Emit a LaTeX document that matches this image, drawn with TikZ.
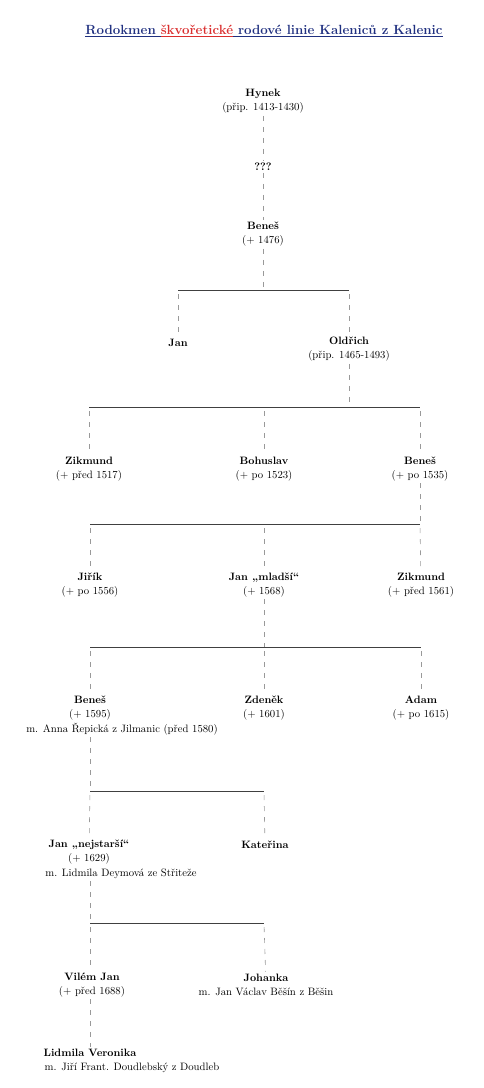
\documentclass[tikz,border=0pt]{standalone}
\usepackage{fontspec}
\usepackage{xcolor}
\usetikzlibrary{positioning}

\definecolor{titleblue}{RGB}{32,48,128}
\definecolor{titlered}{RGB}{218,46,46}

\begin{document}
\begin{tikzpicture}[x=1pt, y=-1pt,
		person/.style={font=\fontsize{10.7}{14}\selectfont, align=center, inner sep=2pt},
		spouse/.style={font=\fontsize{10.7}{14}\selectfont, inner sep=2pt},
		kin/.style={gray!80, line width=0.6pt, dash pattern=on 5pt off 6pt},
		bar/.style={black!75, line width=0.7pt}]
	\useasboundingbox (0,0) rectangle (484,1088);

	% title
	\node[font=\fontsize{13.3}{15}\selectfont\bfseries, inner sep=0pt] (title) at (264,31)
		{\textcolor{titleblue}{\underline{Rodokmen\ }}\textcolor{titlered}{\underline{škvořetické}}\textcolor{titleblue}{\underline{\ rodové linie Kaleniců z Kalenic}}};

	% Hynek and Beneš
	\node[person] (hynek) at (263,101.5) {\textbf{Hynek}\\(přip. 1413-1430)};
	\node[person] (unk) at (263,167) {\textbf{???}};
	\node[person] (benes1) at (263,234.5) {\textbf{Beneš}\\(+ 1476)};
	\draw[kin] (hynek) -- (unk);
	\draw[kin] (unk) -- (benes1);

	% sons of Beneš
	\coordinate (b1l) at (178,290);
	\coordinate (b1m) at (263,290);
	\coordinate (b1r) at (349,290);
	\node[person] (jan1) at (178,343) {\textbf{Jan}};
	\node[person] (oldrich) at (349,349.5) {\textbf{Oldřich}\\(přip. 1465-1493)};
	\draw[bar] (b1l) -- (b1r);
	\draw[kin] (benes1) -- (b1m);
	\draw[kin, shorten <=4pt] (b1l) -- (jan1);
	\draw[kin, shorten <=4pt] (b1r) -- (oldrich);

	% sons of Oldřich
	\coordinate (b2l) at (89,407);
	\coordinate (b2c) at (264,407);
	\coordinate (b2m) at (349,407);
	\coordinate (b2r) at (420,407);
	\node[person] (zikmund1) at (89,469) {\textbf{Zikmund}\\(+ před 1517)};
	\node[person] (bohuslav) at (264,469) {\textbf{Bohuslav}\\(+ po 1523)};
	\node[person] (benes2) at (420,469) {\textbf{Beneš}\\(+ po 1535)};
	\draw[bar] (b2l) -- (b2r);
	\draw[kin] (oldrich) -- (b2m);
	\draw[kin, shorten <=4pt] (b2l) -- (zikmund1);
	\draw[kin, shorten <=4pt] (b2c) -- (bohuslav);
	\draw[kin, shorten <=4pt] (b2r) -- (benes2);

	% sons of Beneš
	\coordinate (b3l) at (90,524);
	\coordinate (b3c) at (264,524);
	\coordinate (b3r) at (420,524);
	\node[person] (jirik) at (90,585) {\textbf{Jiřík}\\(+ po 1556)};
	\node[person] (janml) at (264,585) {\textbf{Jan „mladší“}\\(+ 1568)};
	\node[person] (zikmund2) at (421,585) {\textbf{Zikmund}\\(+ před 1561)};
	\draw[bar] (b3l) -- (b3r);
	\draw[kin] (benes2) -- (b3r);
	\draw[kin, shorten <=4pt] (b3l) -- (jirik);
	\draw[kin, shorten <=4pt] (b3c) -- (janml);
	\draw[kin, shorten <=4pt] (b3r) -- (zikmund2);

	% sons of Jan "mladší"
	\coordinate (b4l) at (90,647);
	\coordinate (b4c) at (264,647);
	\coordinate (b4r) at (421,647);
	\node[person] (benes3) at (90,708) {\textbf{Beneš}\\(+ 1595)};
	\node[spouse] (benes3sp) at (122,729) {m. Anna Řepická z Jilmanic (před 1580)};
	\node[person] (zdenek) at (264,708) {\textbf{Zdeněk}\\(+ 1601)};
	\node[person] (adam) at (421,708) {\textbf{Adam}\\(+ po 1615)};
	\draw[bar] (b4l) -- (b4r);
	\draw[kin] (janml) -- (b4c);
	\draw[kin, shorten <=4pt] (b4l) -- (benes3);
	\draw[kin, shorten <=4pt] (b4c) -- (zdenek);
	\draw[kin, shorten <=4pt] (b4r) -- (adam);

	% children of Beneš
	\coordinate (b5l) at (90,791);
	\coordinate (b5r) at (264,791);
	\node[person] (jannej) at (89,852) {\textbf{Jan „nejstarší“}\\(+ 1629)};
	\node[spouse] (jannejsp) at (121,874) {m. Lidmila Deymová ze Střiteže};
	\node[person] (katerina) at (265,845) {\textbf{Kateřina}};
	\draw[bar] (b5l) -- (b5r);
	\draw[kin] (benes3sp.south -| b5l) -- (b5l);
	\draw[kin, shorten <=4pt] (b5l) -- (jannej);
	\draw[kin, shorten <=4pt] (b5r) -- (katerina);

	% children of Jan "nejstarší"
	\coordinate (b6l) at (90,923);
	\coordinate (b6r) at (264,923);
	\node[person] (vilem) at (92,985) {\textbf{Vilém Jan}\\(+ před 1688)};
	\node[person] (johanka) at (266,985) {\textbf{Johanka}\\m. Jan Václav Běšín z Běšin};
	\draw[bar] (b6l) -- (b6r);
	\draw[kin] (jannejsp.south -| b6l) -- (b6l);
	\draw[kin, shorten <=4pt] (b6l) -- (vilem.north -| b6l);
	\draw[kin, shorten <=4pt] (b6r) -- (johanka);

	% Lidmila Veronika
	\node[person] (lidmila) at (90,1053) {\textbf{Lidmila Veronika}};
	\node[spouse] (lidmilasp) at (132,1068) {m. Jiří Frant. Doudlebský z Doudleb};
	\draw[kin] (vilem.south -| lidmila) -- (lidmila);
\end{tikzpicture}
\end{document}
